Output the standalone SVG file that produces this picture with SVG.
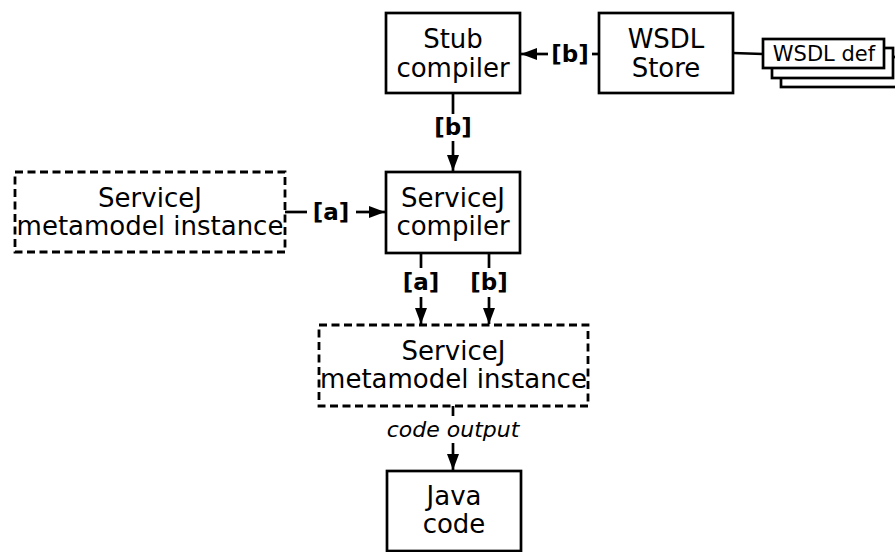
<svg xmlns="http://www.w3.org/2000/svg" width="895" height="552" viewBox="0 0 895 552">
<style>
.box{fill:#fff;stroke:#000;stroke-width:2.7}
.dash{fill:#fff;stroke:#000;stroke-width:2.8;stroke-dasharray:8 4.5}
.t{font-family:"DejaVu Sans",sans-serif;font-size:26px;text-anchor:middle;fill:#000}
.lbl{font-family:"DejaVu Sans",sans-serif;font-size:23px;font-weight:bold;text-anchor:middle;fill:#000}
.it{font-family:"DejaVu Sans",sans-serif;font-size:22px;font-style:italic;text-anchor:middle;fill:#000}
.def{font-family:"DejaVu Sans",sans-serif;font-size:21px;text-anchor:middle;fill:#000}
.ln{stroke:#000;stroke-width:2.7;fill:none}
</style>
<defs>
<marker id="ah" viewBox="0 0 16 12" refX="16" refY="6" markerWidth="16" markerHeight="12" markerUnits="userSpaceOnUse" orient="auto">
<path d="M0,0 L16,6 L0,12 Z" fill="#000"/>
</marker>
</defs>
<g id="connectors">
<line class="ln" x1="599" y1="54" x2="592" y2="54"/>
<text class="lbl" x="570" y="62">[b]</text>
<line class="ln" x1="548" y1="54" x2="521" y2="54" marker-end="url(#ah)"/>
<line class="ln" x1="733" y1="53" x2="763" y2="54"/>
<line class="ln" x1="453" y1="93" x2="453" y2="114"/>
<text class="lbl" x="453" y="135">[b]</text>
<line class="ln" x1="453" y1="141" x2="453" y2="171" marker-end="url(#ah)"/>
<line class="ln" x1="285" y1="212" x2="307" y2="212"/>
<text class="lbl" x="331" y="220">[a]</text>
<line class="ln" x1="356" y1="212" x2="385" y2="212" marker-end="url(#ah)"/>
<line class="ln" x1="421" y1="253" x2="421" y2="268"/>
<text class="lbl" x="421" y="290">[a]</text>
<line class="ln" x1="421" y1="297" x2="421" y2="324" marker-end="url(#ah)"/>
<line class="ln" x1="489" y1="253" x2="489" y2="268"/>
<text class="lbl" x="489" y="290">[b]</text>
<line class="ln" x1="489" y1="297" x2="489" y2="324" marker-end="url(#ah)"/>
<line class="ln" x1="453" y1="406" x2="453" y2="416"/>
<text class="it" x="453" y="437">code output</text>
<line class="ln" x1="453" y1="443" x2="453" y2="470" marker-end="url(#ah)"/>
</g>
<g id="stub">
<rect class="box" x="386" y="13" width="134" height="80"/>
<text class="t" x="453" y="48">Stub</text>
<text class="t" x="453" y="77">compiler</text>
</g>
<g id="wsdlstore">
<rect class="box" x="599" y="13" width="134" height="80"/>
<text class="t" x="666" y="48">WSDL</text>
<text class="t" x="666" y="77">Store</text>
</g>
<g id="wsdldef">
<rect class="box" x="781" y="57" width="130" height="30"/>
<rect class="box" x="772" y="48" width="121" height="30"/>
<rect class="box" x="763" y="39" width="121" height="29"/>
<text class="def" x="824" y="61">WSDL def</text>
</g>
<g id="metamodel1">
<rect class="dash" x="15" y="172" width="270" height="80"/>
<text class="t" x="150" y="207">ServiceJ</text>
<text class="t" x="150" y="235">metamodel instance</text>
</g>
<g id="servicej">
<rect class="box" x="386" y="172" width="134" height="81"/>
<text class="t" x="453" y="207">ServiceJ</text>
<text class="t" x="453" y="235">compiler</text>
</g>
<g id="metamodel2">
<rect class="dash" x="319" y="325" width="269" height="81"/>
<text class="t" x="453.5" y="360">ServiceJ</text>
<text class="t" x="453.5" y="388">metamodel instance</text>
</g>
<g id="java">
<rect class="box" x="387" y="471" width="134" height="80"/>
<text class="t" x="454" y="505">Java</text>
<text class="t" x="454" y="533">code</text>
</g>
</svg>
